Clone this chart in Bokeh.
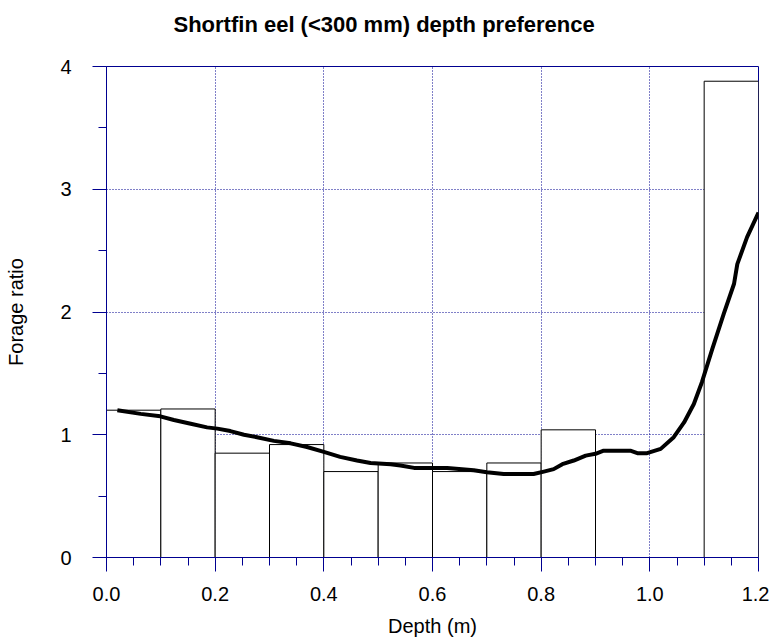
from bokeh.plotting import figure
from bokeh.models import FixedTicker, Range1d, ColumnDataSource, CustomJSTickFormatter, Title
from bokeh.embed import file_html
from bokeh.resources import INLINE

# ---- data ----
title_text = "Shortfin eel (<300 mm) depth preference"
bin_left = [0.0, 0.1, 0.2, 0.3, 0.4, 0.5, 0.6, 0.7, 0.8, 0.9, 1.0, 1.1]
bin_width = 0.1
forage_ratio = [1.20, 1.21, 0.85, 0.92, 0.70, 0.77, 0.70, 0.77, 1.04, 0.0, 0.0, 3.88]

curve_depth = [0.02, 0.063, 0.099, 0.124, 0.155, 0.185, 0.204, 0.228, 0.253, 0.277,
               0.308, 0.339, 0.369, 0.40, 0.43, 0.461, 0.486, 0.523, 0.541, 0.566,
               0.627, 0.676, 0.70, 0.731, 0.786, 0.805, 0.823, 0.839, 0.86, 0.882,
               0.90, 0.915, 0.964, 0.977, 0.995, 1.02, 1.044, 1.063, 1.081, 1.096,
               1.115, 1.136, 1.155, 1.161, 1.179, 1.20]
curve_ratio = [1.20, 1.17, 1.15, 1.12, 1.09, 1.06, 1.05, 1.03, 1.00, 0.98,
               0.95, 0.93, 0.90, 0.86, 0.82, 0.79, 0.77, 0.76, 0.75, 0.73,
               0.73, 0.71, 0.695, 0.68, 0.68, 0.70, 0.72, 0.76, 0.79, 0.83,
               0.845, 0.87, 0.87, 0.85, 0.85, 0.885, 0.98, 1.10, 1.25, 1.43,
               1.70, 1.985, 2.23, 2.39, 2.61, 2.81]

x_ticks = [0.0, 0.2, 0.4, 0.6, 0.8, 1.0, 1.2]
x_minor = [0.05, 0.1, 0.15, 0.25, 0.3, 0.35, 0.45, 0.5, 0.55, 0.65, 0.7, 0.75,
           0.85, 0.9, 0.95, 1.05, 1.1, 1.15]
y_ticks = [0, 1, 2, 3, 4]
y_minor = [0.5, 1.5, 2.5, 3.5]

NAVY = "#000090"
FONT = "Liberation Sans"

p = figure(width=769, height=639, output_backend="svg", toolbar_location=None,
           x_range=Range1d(0, 1.2), y_range=Range1d(0, 4),
           min_border_left=106, min_border_right=11, min_border_top=66,
           min_border_bottom=82)

# spacer panel between frame and title, then the title itself
spacer = Title(text=" ", text_font_size="12px", standoff=14)
main_title = Title(text=title_text, text_font=FONT, text_font_size="22px",
                   text_font_style="bold", text_color="black", align="left",
                   vertical_align="bottom", offset=67, standoff=0)
p.add_layout(spacer, "above")
p.add_layout(main_title, "above")

# bars (skip empty bins, which the reference does not draw)
lefts = [l for l, v in zip(bin_left, forage_ratio) if v > 0]
tops = [v for v in forage_ratio if v > 0]
src = ColumnDataSource(dict(left=lefts, right=[l + bin_width for l in lefts], top=tops,
                            bottom=[0] * len(tops)))
p.quad(left="left", right="right", top="top", bottom="bottom", source=src,
       fill_color="white", line_color="black", line_width=1)

p.line(curve_depth, curve_ratio, line_color="black", line_width=4, line_join="round")

# axes
p.xaxis.ticker = FixedTicker(ticks=x_ticks, minor_ticks=x_minor)
p.yaxis.ticker = FixedTicker(ticks=y_ticks, minor_ticks=y_minor)
p.xaxis.formatter = CustomJSTickFormatter(code="return tick.toFixed(1);")
p.yaxis.formatter = CustomJSTickFormatter(code="return tick.toFixed(0);")

for ax in (p.xaxis[0], p.yaxis[0]):
    ax.axis_line_color = NAVY
    ax.major_tick_line_color = NAVY
    ax.minor_tick_line_color = NAVY
    ax.major_tick_in = 0
    ax.major_tick_out = 14
    ax.minor_tick_in = 0
    ax.minor_tick_out = 8
    ax.major_label_text_font = FONT
    ax.major_label_text_font_size = "20px"
    ax.major_label_text_color = "black"
    ax.axis_label_text_font = FONT
    ax.axis_label_text_font_size = "20px"
    ax.axis_label_text_font_style = "normal"
    ax.axis_label_text_color = "black"

p.xaxis.axis_label = "Depth (m)"
p.yaxis.axis_label = "Forage ratio"
p.xaxis.major_label_standoff = 15
p.xaxis.axis_label_standoff = 11
p.yaxis.major_label_standoff = 21
p.yaxis.axis_label_standoff = 30

# grid
p.xgrid.ticker = FixedTicker(ticks=[0.2, 0.4, 0.6, 0.8, 1.0])
p.ygrid.ticker = FixedTicker(ticks=[1, 2, 3])
for g in (p.xgrid[0], p.ygrid[0]):
    g.grid_line_color = NAVY
    g.grid_line_dash = "1 2"
    g.grid_line_width = 1

p.outline_line_color = NAVY
p.outline_line_width = 1
p.background_fill_color = "white"
p.border_fill_color = "white"

open("out.html", "w").write(file_html(p, INLINE))
